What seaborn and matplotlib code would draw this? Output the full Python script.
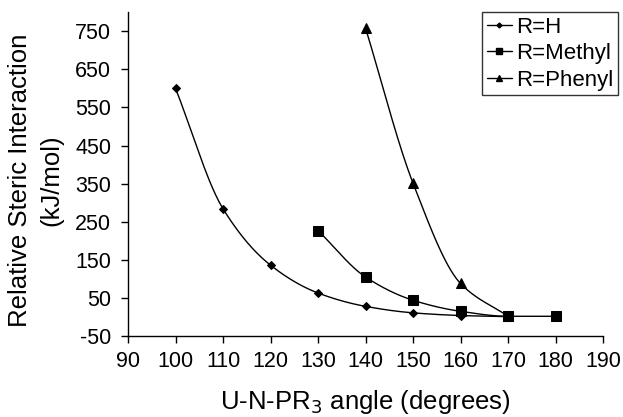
import numpy as np
import pandas as pd
import matplotlib
matplotlib.use("Agg")
import matplotlib.pyplot as plt
import seaborn as sns

# Data
angle_h = [100, 110, 120, 130, 140, 150, 160, 170]
steric_h = [600, 284, 136, 63, 28, 11, 4, 1]

angle_methyl = [130, 140, 150, 160, 170, 180]
steric_methyl = [227, 105, 44, 15, 2, 2]

angle_phenyl = [140, 150, 160, 170]
steric_phenyl = [758, 351, 88, 2]

series_names = ["R=H", "R=Methyl", "R=Phenyl"]
markers = ["D", "s", "^"]
marker_sizes = [4, 6.5, 6.5]


def pchip(x, y, n=200):
    # monotone cubic through the points, just for a smooth-looking line
    x = np.asarray(x, float)
    y = np.asarray(y, float)
    h = np.diff(x)
    d = np.diff(y) / h
    m = np.zeros_like(y)
    for i in range(1, len(y) - 1):
        if d[i - 1] * d[i] > 0:
            w1 = 2 * h[i] + h[i - 1]
            w2 = h[i] + 2 * h[i - 1]
            m[i] = (w1 + w2) / (w1 / d[i - 1] + w2 / d[i])
    m[0] = d[0]
    m[-1] = d[-1] if d[-1] * d[-2] > 0 else 0
    xs = np.linspace(x[0], x[-1], n)
    idx = np.clip(np.searchsorted(x, xs) - 1, 0, len(h) - 1)
    t = (xs - x[idx]) / h[idx]
    h00 = 2 * t**3 - 3 * t**2 + 1
    h10 = t**3 - 2 * t**2 + t
    h01 = -2 * t**3 + 3 * t**2
    h11 = t**3 - t**2
    ys = h00 * y[idx] + h10 * h[idx] * m[idx] + h01 * y[idx + 1] + h11 * h[idx] * m[idx + 1]
    return xs, ys


sns.set_style("ticks")
plt.rcParams["font.family"] = ["Liberation Sans", "DejaVu Sans"]
plt.rcParams["axes.unicode_minus"] = False
for key in ["text.color", "axes.labelcolor", "xtick.color", "ytick.color", "axes.edgecolor"]:
    plt.rcParams[key] = "black"

fig = plt.figure(figsize=(6.23, 4.17), dpi=100)
ax = fig.add_axes([0.2055, 0.194, 0.7625, 0.777])

data = [(angle_h, steric_h), (angle_methyl, steric_methyl), (angle_phenyl, steric_phenyl)]
for (xv, yv), name, mk, ms in zip(data, series_names, markers, marker_sizes):
    xs, ys = pchip(xv, yv)
    ax.plot(xs, ys, color="black", lw=1.0)
    df = pd.DataFrame({"angle": xv, "steric": yv})
    sns.lineplot(data=df, x="angle", y="steric", ax=ax, color="black",
                 linestyle="none", marker=mk, markersize=ms,
                 markeredgecolor="black", label=None)
    # legend proxy
    ax.plot([], [], color="black", lw=1.0, marker=mk, markersize=ms - 1.5, label=name)

ax.set_xlim(90, 190)
ax.set_ylim(-50, 800)
ax.set_xticks(np.arange(90, 191, 10))
ax.set_yticks(np.arange(-50, 751, 100))
ax.tick_params(axis="both", labelsize=15.5, length=5, width=1, color="black",
               labelcolor="black", direction="out")
ax.tick_params(axis="x", pad=6)
ax.tick_params(axis="y", pad=7)
for s in ["top", "right"]:
    ax.spines[s].set_visible(False)
for s in ["left", "bottom"]:
    ax.spines[s].set_linewidth(1)
    ax.spines[s].set_color("black")

ax.set_xlabel("U-N-PR$_3$ angle (degrees)", fontsize=18.5, color="black")
ax.xaxis.set_label_coords(0.5, -0.16)
ax.set_ylabel("Relative Steric Interaction\n(kJ/mol)", fontsize=18.5, linespacing=1.35,
              color="black")
ax.yaxis.set_label_coords(-0.137, 0.48)

leg = ax.legend(loc="upper right", bbox_to_anchor=(1.032, 1.0), fontsize=16,
                frameon=True, fancybox=False, edgecolor="black", handlelength=1.15,
                handletextpad=0.2, borderpad=0.2, labelspacing=0.25, borderaxespad=0)
leg.get_frame().set_linewidth(1)
for txt in leg.get_texts():
    txt.set_color("black")

fig.savefig("out.png", dpi=100)
